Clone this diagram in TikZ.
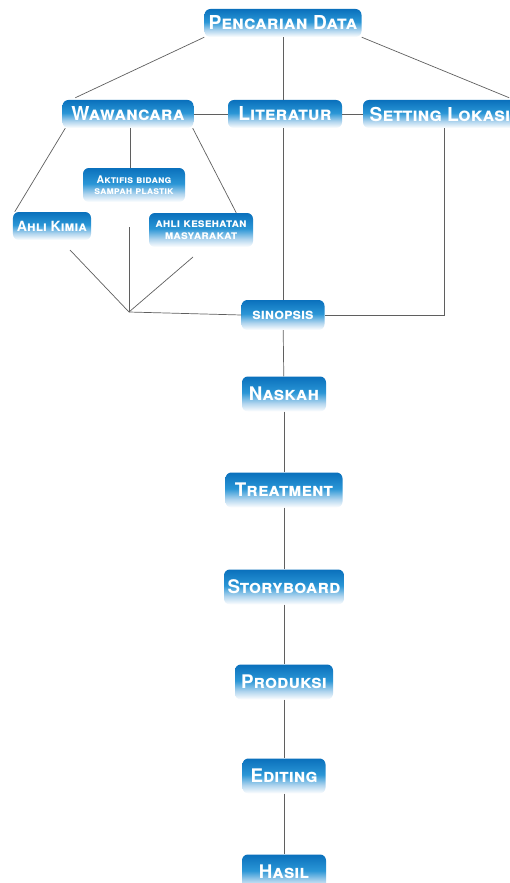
\documentclass[tikz,border=0pt]{standalone}
\usepackage{fontspec}
\setmainfont{TeX Gyre Heros}
\usetikzlibrary{positioning,calc}
\definecolor{boxdark}{RGB}{10,112,188}
\definecolor{boxblue}{RGB}{42,150,214}
\definecolor{boxlight}{RGB}{175,212,238}
\definecolor{linegray}{RGB}{95,95,95}
\pgfdeclareverticalshading{boxfade}{100bp}{color(0bp)=(white); color(25bp)=(white); color(37bp)=(boxlight); color(52bp)=(boxblue); color(75bp)=(boxdark); color(100bp)=(boxdark)}

\begin{document}
\begin{tikzpicture}[x=0.3mm,y=-0.3mm,
    box/.style={rounded corners=5pt, shading=boxfade, text=white, inner sep=2pt,
      font=\bfseries\scshape\fontsize{16.4}{18}\selectfont, minimum height=8.4mm},
    twobox/.style={box, align=center, minimum height=10.2mm,
      font=\bfseries\scshape\fontsize{9}{9.5}\selectfont},
    chainbox/.style={box, minimum height=10.5mm,
      font=\bfseries\scshape\fontsize{16}{18}\selectfont},
    link/.style={draw=linegray, line width=0.6pt}]
    \useasboundingbox (0,0) rectangle (509,883);

    % Top level
    \node[box, minimum width=47.1mm] (pencarian) at (283,23) {Pencarian Data};
    \node[box, minimum width=39.3mm] (wawancara) at (128,114) {Wawancara};
    \node[box, minimum width=34.2mm] (literatur) at (285,114) {Literatur};
    \node[box, minimum width=46.2mm] (setting) at (440,114) {Setting Lokasi};

    % Narasumber
    \node[twobox, minimum width=30.6mm] (aktifis) at (134,185) {Aktifis bidang\\sampah plastik};
    \node[box, minimum width=23.4mm, font=\bfseries\scshape\fontsize{12}{14}\selectfont] (kimia) at (52,226) {Ahli Kimia};
    \node[twobox, minimum width=31.2mm, font=\bfseries\scshape\fontsize{10.5}{10.5}\selectfont] (kesehatan) at (201,230) {ahli kesehatan\\masyarakat};

    % Alur produksi
    \node[chainbox, minimum width=24.9mm, minimum height=9mm, font=\bfseries\scshape\fontsize{13}{15}\selectfont] (sinopsis) at (283,315) {sinopsis};
    \node[chainbox, minimum width=25.2mm] (naskah) at (284,394) {Naskah};
    \node[chainbox, minimum width=35.1mm] (treatment) at (284,490) {Treatment};
    \node[chainbox, minimum width=36mm] (storyboard) at (284,587) {Storyboard};
    \node[chainbox, minimum width=29.4mm] (produksi) at (284,682) {Produksi};
    \node[chainbox, minimum width=24.9mm] (editing) at (284,776) {Editing};
    \node[chainbox, minimum width=25.2mm] (hasil) at (284,872) {Hasil};

    % Titik bebas
    \coordinate (kimiaend) at (70,250);
    \coordinate (aktifisend) at (129,227);
    \coordinate (kesehatanend) at (193,257);
    \coordinate (merge) at (129,312);

    % Garis dari pencarian data
    \draw[link] (pencarian.south west) -- ($(wawancara.north west)+(13,-2)$);
    \draw[link] (pencarian.south) -- (pencarian.south |- literatur.north);
    \draw[link] (pencarian.south east) -- ($(setting.north east)+(-8,-2)$);
    \draw[link] (wawancara) -- (literatur);
    \draw[link] (literatur) -- (setting);

    % Garis ke narasumber
    \draw[link] ($(wawancara.south west)+(3,0)$) -- ($(kimia.north west)+(2,0)$);
    \draw[link] ($(wawancara.south)+(2,0)$) -- ($(aktifis.north)+(-4,0)$);
    \draw[link] ($(wawancara.south east)+(-1,0)$) -- ($(kesehatan.north east)+(-17,0)$);

    % Garis ke sinopsis
    \draw[link] (kimiaend) -- (merge);
    \draw[link] (aktifisend) -- (merge);
    \draw[link] (kesehatanend) -- (merge);
    \draw[link] (merge) -- (sinopsis.west);
    \draw[link] (literatur.south -| pencarian.south) -- (sinopsis.north -| pencarian.south);
    \draw[link] ($(setting.south)+(4,0)$) |- (sinopsis.east);

    % Alur
    \foreach \a/\b in {sinopsis/naskah, naskah/treatment, treatment/storyboard,
      storyboard/produksi, produksi/editing, editing/hasil}
      \draw[link] (\a) -- (\b);
\end{tikzpicture}
\end{document}
